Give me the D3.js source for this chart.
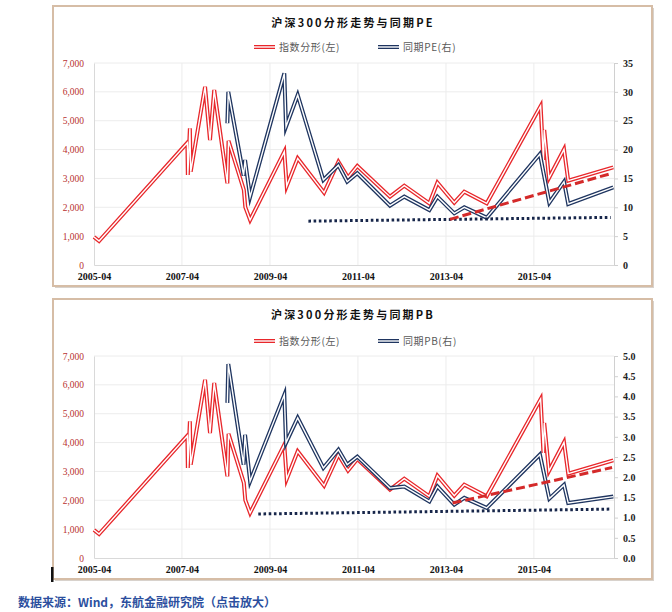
<!DOCTYPE html>
<html><head><meta charset="utf-8">
<script src="https://cdn.jsdelivr.net/npm/d3@7"></script>
<style>
html,body{margin:0;padding:0;background:#fff;}
svg{display:block;}
</style></head>
<body>
<svg id="chart" width="672" height="612"></svg>
<script>
// ---------------- DATA ----------------
const leftTicks = [0, 1000, 2000, 3000, 4000, 5000, 6000, 7000];
const peTicks = [0, 5, 10, 15, 20, 25, 30, 35];
const pbTicks = [0, 0.5, 1.0, 1.5, 2.0, 2.5, 3.0, 3.5, 4.0, 4.5, 5.0];
const xTickLabels = ["2005-04", "2007-04", "2009-04", "2011-04", "2013-04", "2015-04"];

// 指数分形 (left axis)
const indexDates = ["2005-04-01","2005-05-13","2007-05-16","2007-05-20","2007-06-06","2007-06-13",
  "2007-10-10","2007-11-20","2007-12-25","2008-04-12","2008-04-22","2008-08-27","2008-09-08",
  "2008-10-18","2009-07-29","2009-08-18","2009-11-17","2010-06-24","2010-10-21","2011-01-09",
  "2011-03-27","2011-12-23","2012-04-20","2012-11-14","2013-01-20","2013-06-09","2013-08-31",
  "2014-03-05","2015-05-27","2015-06-19","2015-06-26","2015-08-04","2015-12-07","2016-01-11","2017-01-19"];
const indexValues = [970, 830, 4238, 3120, 4740, 3230,
  6178, 4331, 6064, 2830, 4300, 2600, 2010,
  1560, 3926, 2737, 3696, 2506, 3580, 3030,
  3430, 2367, 2748, 2137, 2852, 2159, 2540,
  2137, 5509, 3640, 4680, 3014, 4009, 2922, 3385];

// 同期PE (right axis, top)
const peDates = ["2008-04-12","2008-04-20","2008-08-25","2008-09-06","2008-10-18","2009-07-29",
  "2009-08-12","2009-11-17","2010-06-18","2010-10-21","2011-01-02","2011-03-27","2011-12-23",
  "2012-04-20","2012-11-14","2013-01-20","2013-06-09","2013-08-31","2014-03-05","2015-05-21",
  "2015-08-07","2015-12-07","2016-01-11","2017-01-19"];
const peValues = [24.55, 30.0, 15.5, 18.2, 11.8, 33.2,
  23.96, 29.45, 14.73, 17.3, 14.43, 15.9, 10.28,
  11.84, 9.53, 11.84, 8.95, 10.0, 8.2, 19.23,
  10.8, 14.43, 10.57, 13.46];

// 同期PB (right axis, bottom)
const pbDates = peDates;
const pbValues = [3.84, 4.80, 2.31, 3.05, 1.90, 4.04,
  2.85, 3.47, 2.23, 2.68, 2.31, 2.51, 1.73,
  1.77, 1.40, 1.77, 1.32, 1.49, 1.24, 2.56,
  1.47, 1.81, 1.36, 1.52];

// dotted floor lines (right axis) and dashed trend lines (left axis)
const peFloorDates = ["2010-02-14", "2016-12-28"];
const peFloorValues = [7.6, 8.25];
const pbFloorDates = ["2008-12-25", "2016-12-22"];
const pbFloorValues = [1.09, 1.21];
const peTrendDates = ["2013-05-04", "2017-01-06"];
const peTrendValues = [1583, 3177];
const pbTrendDates = ["2013-05-26", "2017-01-09"];
const pbTrendValues = [1906, 3135];

const titles = ["沪深300分形走势与同期PE", "沪深300分形走势与同期PB"];
const legendNames = [["指数分形(左)", "同期PE(右)"], ["指数分形(左)", "同期PB(右)"]];
const footer = "数据来源：Wind，东航金融研究院（点击放大）";

// ---------------- DRAW ----------------
const parse = d3.timeParse("%Y-%m-%d");
const parseM = d3.timeParse("%Y-%m");
const svg = d3.select("#chart");
const RED = "#e8272b", NAVY = "#1f3560";

const x = d3.scaleTime()
  .domain([parse("2005-04-01"), parse("2017-01-25")])
  .range([94, 614]);

function zip(dates, vals){ return dates.map((d,i)=>({t: parse(d), v: vals[i]})); }

function doubleLine(g, data, y, color){
  const line = d3.line().x(d=>x(d.t)).y(d=>y(d.v)).curve(d3.curveLinear);
  g.append("path").datum(data).attr("d", line).attr("fill","none")
    .attr("stroke", color).attr("stroke-width", 4).attr("stroke-linejoin","miter").attr("stroke-miterlimit", 6);
  g.append("path").datum(data).attr("d", line).attr("fill","none")
    .attr("stroke", "#fff").attr("stroke-width", 1.4).attr("stroke-linejoin","miter").attr("stroke-miterlimit", 6);
}

function panel(cfg){
  const g = svg.append("g");
  // frame with a soft shadow
  g.append("rect").attr("x", 55).attr("y", cfg.fy0 + 2)
    .attr("width", 599).attr("height", cfg.fy1 - cfg.fy0).attr("fill", "#d8d2cc");
  g.append("rect").attr("x", 53).attr("y", cfg.fy0).attr("width", 599).attr("height", cfg.fy1 - cfg.fy0)
    .attr("fill", "#fff").attr("stroke", "#d6bda6").attr("stroke-width", 2);

  const yL = d3.scaleLinear().domain([0, 7000]).range([cfg.bottom, cfg.top]);
  const yR = d3.scaleLinear().domain(cfg.rDomain).range([cfg.bottom, cfg.top]);

  // gridlines
  g.append("g").selectAll("line").data(leftTicks.slice(1)).join("line")
    .attr("x1", 94).attr("x2", 614).attr("y1", d=>yL(d)).attr("y2", d=>yL(d))
    .attr("stroke", "#ececec").attr("stroke-width", 1);
  const xTicks = xTickLabels.map(s=>parseM(s));
  g.append("g").selectAll("line").data(xTicks.slice(1)).join("line")
    .attr("x1", d=>x(d)).attr("x2", d=>x(d)).attr("y1", cfg.top).attr("y2", cfg.bottom)
    .attr("stroke", "#ececec").attr("stroke-width", 1);

  // axes
  const axL = g.append("g").attr("transform", "translate(94,0)")
    .call(d3.axisLeft(yL).tickValues(leftTicks).tickFormat(d3.format(",")).tickSize(0).tickPadding(10));
  axL.select(".domain").attr("stroke", "#d9d9d9");
  axL.selectAll("text").attr("fill", "#b8312f").style("font-family", "'Liberation Serif', serif").style("font-size", "9.5px");

  const axR = g.append("g").attr("transform", "translate(614,0)")
    .call(d3.axisRight(yR).tickValues(cfg.rTicks).tickFormat(cfg.rFormat).tickSize(4).tickPadding(5));
  axR.select(".domain").attr("stroke", "#d0d0d0");
  axR.selectAll(".tick line").attr("stroke", "#d0d0d0");
  axR.selectAll("text").attr("fill", "#222").style("font-family", "'Liberation Serif', serif")
    .style("font-size", "10px").style("font-weight", "bold");

  const axB = g.append("g").attr("transform", `translate(0,${cfg.bottom})`)
    .call(d3.axisBottom(x).tickValues(xTicks).tickFormat(d3.timeFormat("%Y-%m")).tickSize(0).tickPadding(8));
  axB.select(".domain").attr("stroke", "#d9d9d9");
  axB.selectAll("text").attr("fill", "#111").style("font-family", "'Liberation Serif', serif")
    .style("font-size", "10px").style("font-weight", "bold");

  // series
  doubleLine(g, zip(indexDates, indexValues), yL, RED);
  doubleLine(g, zip(cfg.rDates, cfg.rValues), yR, NAVY);
  g.append("path").datum(zip(cfg.floorDates, cfg.floorValues))
    .attr("d", d3.line().x(d=>x(d.t)).y(d=>yR(d.v))).attr("fill","none")
    .attr("stroke", "#17264a").attr("stroke-width", 3).attr("stroke-dasharray", "2.6,2.6");
  g.append("path").datum(zip(cfg.trendDates, cfg.trendValues))
    .attr("d", d3.line().x(d=>x(d.t)).y(d=>yL(d.v))).attr("fill","none")
    .attr("stroke", "#d42a2a").attr("stroke-width", 3).attr("stroke-dasharray", "9,4");

  // title
  g.append("text").attr("x", 353).attr("y", cfg.titleY).attr("text-anchor", "middle")
    .style("font-family", "'Noto Sans CJK SC', sans-serif").style("font-size", "11px")
    .style("font-weight", "bold").style("letter-spacing", "2.2px").attr("fill", "#111").text(cfg.title);

  // legend
  const leg = [{x0: 254, color: RED, name: cfg.legend[0]}, {x0: 378, color: NAVY, name: cfg.legend[1]}];
  leg.forEach(l=>{
    g.append("line").attr("x1", l.x0).attr("x2", l.x0 + 21).attr("y1", cfg.legendY).attr("y2", cfg.legendY)
      .attr("stroke", l.color).attr("stroke-width", 4);
    g.append("line").attr("x1", l.x0).attr("x2", l.x0 + 21).attr("y1", cfg.legendY).attr("y2", cfg.legendY)
      .attr("stroke", "#fff").attr("stroke-width", 1.4);
    g.append("text").attr("x", l.x0 + 25).attr("y", cfg.legendY + 3.5)
      .style("font-family", "'Noto Sans CJK SC', sans-serif").style("font-size", "10px")
      .style("letter-spacing", "0.6px").attr("fill", "#595959").text(l.name);
  });
}

panel({fy0: 6, fy1: 286, top: 63, bottom: 265, rDomain: [0, 35], rTicks: peTicks, rFormat: d3.format("d"),
  rDates: peDates, rValues: peValues, floorDates: peFloorDates, floorValues: peFloorValues,
  trendDates: peTrendDates, trendValues: peTrendValues, title: titles[0], legend: legendNames[0],
  titleY: 27, legendY: 47});
panel({fy0: 299, fy1: 579, top: 356, bottom: 558, rDomain: [0, 5], rTicks: pbTicks, rFormat: d3.format(".1f"),
  rDates: pbDates, rValues: pbValues, floorDates: pbFloorDates, floorValues: pbFloorValues,
  trendDates: pbTrendDates, trendValues: pbTrendValues, title: titles[1], legend: legendNames[1],
  titleY: 319, legendY: 341});

// small cursor mark at the lower-left of the second frame
svg.append("rect").attr("x", 51).attr("y", 567).attr("width", 2.5).attr("height", 15).attr("fill", "#111");

// footer
svg.append("text").attr("x", 18).attr("y", 607)
  .style("font-family", "'Noto Sans CJK SC', sans-serif").style("font-size", "12px").style("font-weight", "bold")
  .attr("fill", "#2c4f9e").text(footer);
</script>
</body></html>
